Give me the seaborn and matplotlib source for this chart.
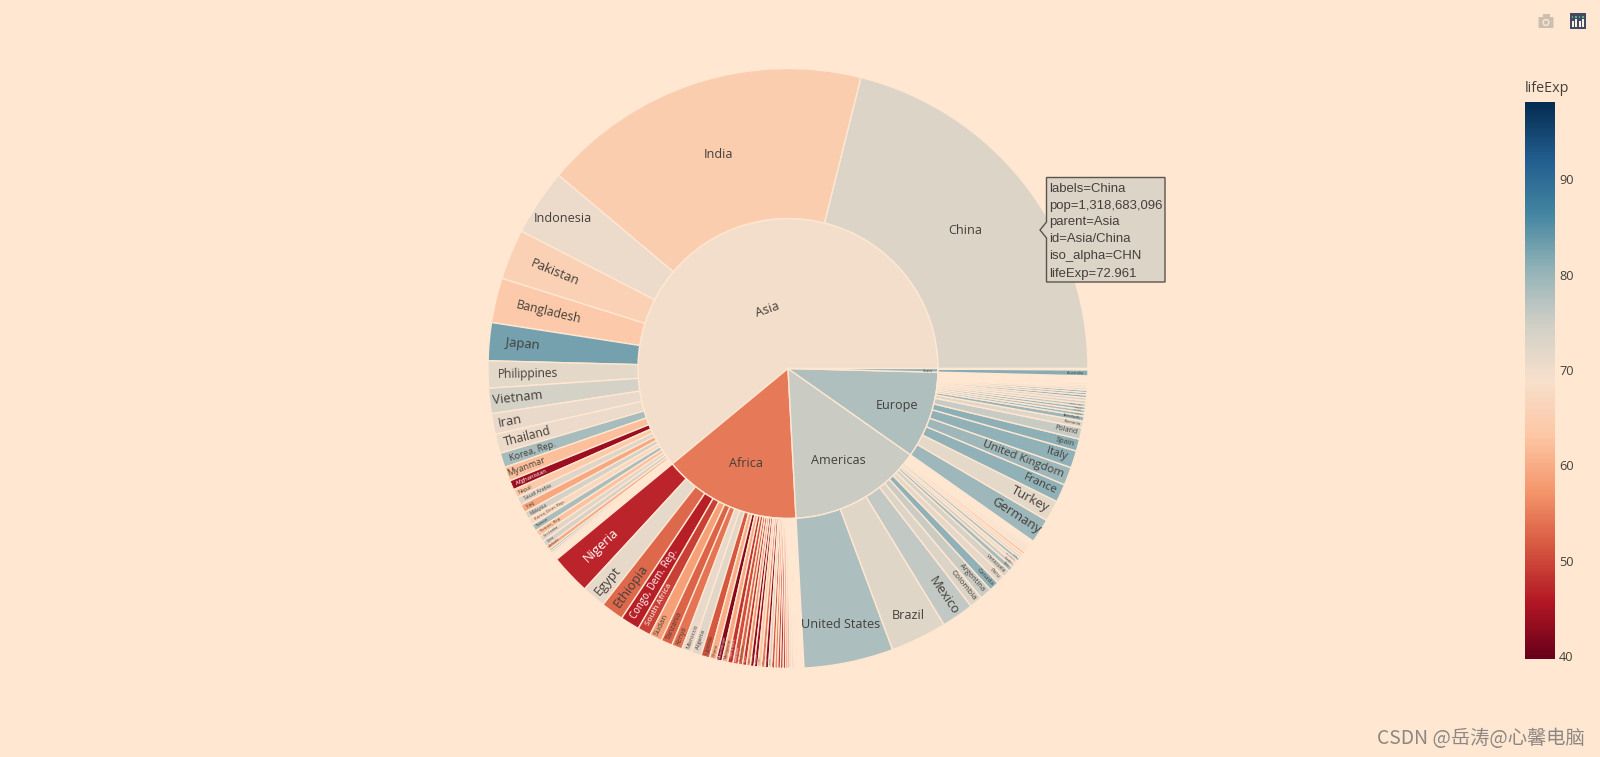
import numpy as np
import matplotlib
matplotlib.use("Agg")
import matplotlib.pyplot as plt
import matplotlib.patches as mpatches
from matplotlib.cm import ScalarMappable
from matplotlib.colors import Normalize
import seaborn as sns

# ---------- data (gapminder, 2007) ----------
continents = ["Asia", "Africa", "Americas", "Europe", "Oceania"]

asia_names = ["China","India","Indonesia","Pakistan","Bangladesh","Japan","Philippines","Vietnam","Iran","Thailand",
              "Korea, Rep.","Myanmar","Afghanistan","Nepal","Saudi Arabia","Iraq","Malaysia","Korea, Dem. Rep.","Taiwan",
              "Yemen, Rep.","Sri Lanka","Syria","Cambodia","Hong Kong, China","Israel","Jordan","Singapore",
              "West Bank and Gaza","Lebanon","Oman","Mongolia","Kuwait","Bahrain"]
asia_pop = [1318683096,1110396331,223547000,169270617,150448339,127467972,91077287,85262356,69453570,65068149,
            49044790,47761980,31889923,28901790,27601038,27499638,24821286,23301725,23174294,
            22211743,20378239,19314747,14131858,6980412,6426679,6053193,4553009,
            4018332,3921278,3204897,2874127,2505559,708573]
asia_life = [72.961,64.698,70.65,65.483,64.062,82.603,71.688,74.249,70.964,70.616,
             78.623,62.069,43.828,63.785,72.777,59.545,74.241,67.297,78.4,
             62.698,72.396,74.143,59.723,82.208,80.745,72.535,79.972,
             73.422,71.993,75.64,66.803,77.588,75.635]

africa_names = ["Nigeria","Egypt","Ethiopia","Congo, Dem. Rep.","South Africa","Sudan","Tanzania","Kenya","Morocco","Algeria",
                "Uganda","Ghana","Mozambique","Madagascar","Cote d'Ivoire","Cameroon","Burkina Faso","Malawi","Niger","Angola",
                "Zimbabwe","Senegal","Mali","Zambia","Tunisia","Chad","Guinea","Somalia","Rwanda","Burundi",
                "Benin","Sierra Leone","Libya","Togo","Eritrea","Central African Republic","Congo, Rep.","Mauritania","Liberia","Namibia",
                "Lesotho","Gambia","Botswana","Guinea-Bissau","Gabon","Mauritius","Swaziland","Reunion","Comoros","Equatorial Guinea",
                "Djibouti","Sao Tome and Principe"]
africa_pop = [135031164,80264543,76511887,64606759,43997828,42292929,38139640,35610177,33757175,33333216,
              29170398,22873338,19951656,19167654,18013409,17696293,14326203,13327079,12894865,12420476,
              12311143,12267493,12031795,11746035,10276158,10238807,9947814,9118773,8860588,8390505,
              8078314,6144562,6036914,5701579,4906585,4369038,3800610,3270065,3193942,2055080,
              2012649,1688359,1639131,1472041,1454867,1250882,1133066,798094,710960,551201,
              496374,199579]
africa_life = [46.859,71.338,52.947,46.462,49.339,58.556,52.517,54.11,71.164,72.301,
               51.542,60.022,42.082,59.443,48.328,50.43,52.295,48.303,56.867,42.731,
               43.487,63.062,54.467,42.384,73.923,50.651,56.007,48.159,46.242,49.58,
               56.728,42.568,73.952,58.42,58.04,44.741,55.322,64.164,45.678,52.906,
               42.592,59.448,50.728,46.388,56.735,72.801,39.613,76.442,65.152,51.579,
               54.791,65.528]

americas_names = ["United States","Brazil","Mexico","Colombia","Argentina","Canada","Peru","Venezuela","Chile","Ecuador",
                  "Guatemala","Cuba","Dominican Republic","Bolivia","Haiti","Honduras","El Salvador","Paraguay","Nicaragua",
                  "Costa Rica","Puerto Rico","Uruguay","Panama","Jamaica","Trinidad and Tobago"]
americas_pop = [301139947,190010647,108700891,44227550,40301927,33390141,28674757,26084662,16284741,13755680,
                12572928,11416987,9319622,9119152,8502814,7483763,6939688,6667147,5675356,
                4133884,3942491,3447496,3242173,2780132,1056608]
americas_life = [78.242,72.39,76.195,72.889,75.32,80.653,71.421,73.747,78.553,74.994,
                 70.259,78.273,72.235,65.554,60.916,70.198,71.878,71.752,72.899,
                 78.782,78.746,76.384,75.537,72.567,69.819]

europe_names = ["Germany","Turkey","France","United Kingdom","Italy","Spain","Poland","Romania","Netherlands","Greece",
                "Portugal","Belgium","Czech Republic","Serbia","Hungary","Sweden","Austria","Switzerland","Bulgaria","Denmark",
                "Slovak Republic","Finland","Norway","Bosnia and Herzegovina","Croatia","Ireland","Albania","Slovenia","Montenegro","Iceland"]
europe_pop = [82400996,71158647,61083916,60776238,58147733,40448191,38518241,22276056,16570613,10706290,
              10642836,10392226,10228744,10150265,9956108,9031088,8199783,7554661,7322858,5468120,
              5447502,5238460,4627926,4552198,4493312,4109086,3600523,2009245,684736,301931]
europe_life = [79.406,71.777,80.657,79.425,80.546,80.941,75.563,72.476,79.762,79.483,
               78.098,79.441,76.486,74.002,73.338,80.884,79.829,81.701,73.005,78.332,
               74.663,79.313,80.196,74.852,75.748,78.885,76.423,77.926,74.543,81.757]

oceania_names = ["Australia","New Zealand"]
oceania_pop = [20434176,4115771]
oceania_life = [81.235,80.204]

colorbar_ticks = [40,50,60,70,80,90]
hover_lines = ["labels=China","pop=1,318,683,096","parent=Asia","id=Asia/China","iso_alpha=CHN","lifeExp=72.961"]
watermark = "CSDN @岳涛@心馨电脑"

# ---------- style ----------
BG = (1.0, 0.905, 0.823)
TINT = np.array([1.0, 0.905, 0.825])
TEXT = (68/255, 63/255, 58/255)
sns.set_theme(style="white", rc={"figure.facecolor": BG, "axes.facecolor": BG})
plt.rcParams["font.family"] = ["Open Sans", "DejaVu Sans"]

rdbu = np.array([(103,0,31),(178,24,43),(214,96,77),(244,165,130),(253,219,199),(247,247,247),
                 (209,229,240),(146,197,222),(67,147,195),(33,102,172),(5,48,97)]) / 255.0
cmap = sns.blend_palette([tuple(c) for c in rdbu * TINT], n_colors=256, as_cmap=True)
VMIN, VMAX = 39.7, 98.1
norm = Normalize(VMIN, VMAX)

groups = [(asia_names, asia_pop, asia_life), (africa_names, africa_pop, africa_life),
          (americas_names, americas_pop, americas_life), (europe_names, europe_pop, europe_life),
          (oceania_names, oceania_pop, oceania_life)]

outer_names, outer_pop, outer_life = [], [], []
inner_pop, inner_life = [], []
for nm, pp, lf in groups:
    outer_names += nm
    outer_pop += pp
    outer_life += lf
    inner_pop.append(sum(pp))
    inner_life.append(float(np.average(lf, weights=pp)))

# ---------- figure ----------
fig = plt.figure(figsize=(16, 7.57), dpi=100)
ax = fig.add_axes([0, 0, 1, 1])
H = 757
CX, CY = 788, H - 368.5
R0, R1 = 150, 300
edge = dict(edgecolor=BG, linewidth=1.0)

ax.pie(inner_pop, radius=R0, center=(CX, CY), startangle=0, counterclock=True,
       colors=[cmap(norm(v)) for v in inner_life], wedgeprops=edge)
ax.pie(outer_pop, radius=R1, center=(CX, CY), startangle=0, counterclock=True,
       colors=[cmap(norm(v)) for v in outer_life], wedgeprops=dict(width=R1 - R0, **edge))
ax.set_xlim(0, 1600)
ax.set_ylim(0, H)
ax.set_aspect("equal")
ax.axis("off")

px = 0.72  # points per pixel at dpi 100
total = float(sum(outer_pop))

# label placement of the wide sectors: radius and whether they stay horizontal
horizontal = {"China": 225, "India": 225, "Indonesia": 271, "United States": 261, "Brazil": 275}
radial_r = {"Pakistan": 252, "Bangladesh": 246, "Nigeria": 257, "Japan": 267}
radial_fs = {"Congo, Dem. Rep.": 9.6, "Philippines": 12.0, "Bangladesh": 12.3}

cum = 0.0
for name, p, life in zip(outer_names, outer_pop, outer_life):
    d = p / total * 2 * np.pi
    th = cum + d / 2
    cum += p / total * 2 * np.pi
    deg = np.degrees(th)
    col = "white" if life < 50.5 else TEXT
    if name in horizontal:
        r = horizontal[name]
        ax.text(CX + r*np.cos(th), CY + r*np.sin(th), name, ha="center", va="center",
                fontsize=12.6*px, color=col)
        continue
    fs = radial_fs.get(name, min(13.0, 186 * d))
    if fs < 1.9:
        continue
    L = 0.56 * len(name) * fs
    r = radial_r.get(name, 297 - L / 2)
    rot = deg - 180 if 90 < deg < 270 else deg
    ax.text(CX + r*np.cos(th), CY + r*np.sin(th), name, ha="center", va="center",
            rotation=rot, rotation_mode="anchor", fontsize=fs*px, color=col)

inner_pos = {"Asia": (-20.5, 58.5, 19, 12.6), "Africa": (-42, -95, 0, 12.6), "Americas": (50, -92, 0, 12.6),
             "Europe": (109, -37, 0, 12.6), "Oceania": (140, -3, -1, 2.6)}
for name in continents:
    dx, dy, rot, fs = inner_pos[name]
    ax.text(CX + dx, CY + dy, name, ha="center", va="center", rotation=rot,
            rotation_mode="anchor", fontsize=fs*px, color=TEXT)

# ---------- colour bar ----------
cax = fig.add_axes([1525/1600, (H-659)/H, 30/1600, 557/H])
sm = ScalarMappable(norm=norm, cmap=cmap)
cb = fig.colorbar(sm, cax=cax)
cb.outline.set_visible(False)
cb.set_ticks(colorbar_ticks)
cb.ax.tick_params(length=0, pad=3, labelsize=12.8*px, labelcolor=TEXT)
ax.text(1525, H-88.5, "lifeExp", ha="left", va="center", fontsize=14.4*px, color=TEXT)

# ---------- hover label ----------
box = [(1040, H-230), (1046.5, H-222), (1046.5, H-177.5), (1165, H-177.5), (1165, H-282),
       (1046.5, H-282), (1046.5, H-238)]
ax.add_patch(mpatches.Polygon(box, closed=True, facecolor=cmap(norm(72.961)),
                              edgecolor=(0.36, 0.33, 0.29), linewidth=1.0, zorder=5))
for i, line in enumerate(hover_lines):
    ax.text(1049.5, H - (188.5 + 17*i), line, ha="left", va="center", fontsize=13.1*px,
            color=TEXT, family="Liberation Sans", zorder=6)

# ---------- mode bar icons ----------
cam = (0.80, 0.745, 0.69)
ax.add_patch(mpatches.FancyBboxPatch((1538.5, H-28), 15, 11, boxstyle="round,pad=0,rounding_size=1",
                                     facecolor=cam, edgecolor="none"))
ax.add_patch(mpatches.Rectangle((1542.5, H-17), 7, 3, facecolor=cam, edgecolor="none"))
ax.add_patch(mpatches.Circle((1546, H-22.5), 3.6, facecolor=BG, edgecolor="none"))
ax.add_patch(mpatches.Circle((1546, H-22.5), 2.2, facecolor=cam, edgecolor="none"))

ax.add_patch(mpatches.Rectangle((1570, H-29), 16, 16, facecolor=(0.26, 0.29, 0.39), edgecolor="none"))
for x0, top in zip([1572.5, 1576, 1579.5, 1583], [21, 19, 21, 19]):
    ax.add_patch(mpatches.Rectangle((x0 - 0.6, H-27), 1.6, 27 - top, facecolor=(0.97, 0.95, 0.9), edgecolor="none"))
    ax.add_patch(mpatches.Rectangle((x0 - 0.6, H-17.5), 1.4, 1.4, facecolor=(0.35, 0.7, 0.6), edgecolor="none"))

# ---------- watermark ----------
ax.text(1585, H-738.5, watermark, ha="right", va="center", fontsize=19.3*px, color=(0.55, 0.53, 0.51),
        family=["Noto Sans CJK SC", "DejaVu Sans"])

fig.savefig("out.png", dpi=100, facecolor=BG)
